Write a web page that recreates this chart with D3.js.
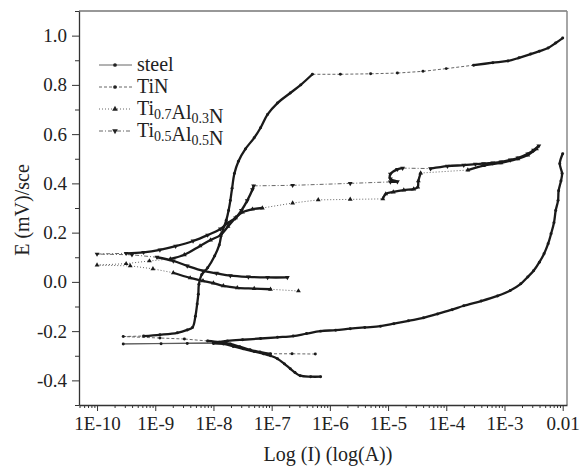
<!DOCTYPE html>
<html>
<head>
<meta charset="utf-8">
<script src="https://cdn.jsdelivr.net/npm/d3@7"></script>
<style>
body { margin: 0; background: #fff; }
text { font-family: "Liberation Serif", "Times New Roman", serif; fill: #222; }
</style>
</head>
<body>
<svg width="587" height="469"></svg>
<script>
var svg = d3.select('svg');

/* data: [log10(I), E] (cathodic end -> tip -> anodic end) */
var steel = [
  [-6.16,-0.385],[-6.33,-0.385],[-6.51,-0.381],[-6.6,-0.368],[-6.68,-0.353],[-6.78,-0.333],
  [-6.9,-0.312],[-7.02,-0.30],[-7.14,-0.292],[-7.3,-0.283],[-7.49,-0.272],[-7.66,-0.262],
  [-7.83,-0.252],[-8.0,-0.25],[-8.45,-0.25],[-8.9,-0.251],[-9.55,-0.252],
  [-8.0,-0.247],[-7.76,-0.24],[-7.5,-0.235],[-7.19,-0.23],[-6.9,-0.225],[-6.63,-0.22],
  [-6.4,-0.21],[-6.16,-0.2],[-5.9,-0.196],[-5.65,-0.19],[-5.4,-0.185],[-5.13,-0.18],
  [-4.9,-0.17],[-4.65,-0.158],[-4.39,-0.146],[-4.15,-0.13],[-3.9,-0.113],[-3.7,-0.097],
  [-3.4,-0.078],[-3.12,-0.057],[-2.9,-0.035],[-2.72,-0.008],[-2.6,0.02],[-2.5,0.045],
  [-2.4,0.08],[-2.32,0.114],[-2.25,0.155],[-2.2,0.195],[-2.15,0.24],[-2.12,0.29],
  [-2.08,0.33],[-2.07,0.37],[-2.03,0.41],[-2.01,0.44],[-2.05,0.48],[-2.0,0.52]
];
var tin = [
  [-6.25,-0.293],[-6.65,-0.292],[-7.02,-0.292],[-7.2,-0.285],[-7.37,-0.276],[-7.55,-0.263],
  [-7.71,-0.252],[-7.9,-0.245],[-8.1,-0.24],[-8.5,-0.232],[-8.92,-0.228],[-9.55,-0.222],
  [-9.2,-0.22],[-8.92,-0.215],[-8.62,-0.207],[-8.45,-0.195],[-8.36,-0.185],[-8.31,-0.14],
  [-8.28,-0.09],[-8.26,-0.05],[-8.25,-0.01],[-8.2,0.03],[-8.1,0.057],[-7.98,0.105],
  [-7.9,0.15],[-7.86,0.195],[-7.78,0.25],[-7.74,0.29],[-7.71,0.33],[-7.68,0.38],
  [-7.64,0.44],[-7.57,0.49],[-7.45,0.54],[-7.3,0.585],[-7.19,0.626],[-7.07,0.68],
  [-6.9,0.726],[-6.68,0.767],[-6.5,0.8],[-6.3,0.843],[-5.82,0.843],[-5.3,0.845],
  [-4.84,0.848],[-4.4,0.855],[-4.0,0.866],[-3.53,0.88],[-3.2,0.89],[-2.94,0.897],
  [-2.75,0.91],[-2.55,0.925],[-2.4,0.937],[-2.25,0.95],[-2.12,0.97],[-2.0,0.99]
];
var ti73 = [
  [-6.54,-0.037],[-7.02,-0.03],[-7.3,-0.027],[-7.59,-0.024],[-7.83,-0.016],[-8.0,-0.005],
  [-8.18,0.004],[-8.4,0.016],[-8.69,0.037],[-9.04,0.053],[-9.43,0.065],[-10.0,0.068],
  [-9.5,0.074],[-9.1,0.085],[-8.74,0.093],[-8.5,0.11],[-8.23,0.146],[-8.05,0.17],
  [-7.88,0.19],[-7.75,0.225],[-7.62,0.26],[-7.5,0.283],[-7.33,0.295],[-7.16,0.30],
  [-6.64,0.32],[-6.2,0.333],[-5.65,0.335],[-5.09,0.337],[-5.04,0.357],[-4.91,0.365],
  [-4.73,0.373],[-4.56,0.377],[-4.49,0.385],[-4.48,0.41],[-4.44,0.442],[-3.63,0.454],
  [-3.36,0.472],[-3.06,0.483],[-2.77,0.5],[-2.6,0.515],[-2.45,0.54]
];
var ti55 = [
  [-6.73,0.018],[-7.07,0.018],[-7.4,0.02],[-7.71,0.025],[-7.95,0.035],[-8.18,0.045],
  [-8.45,0.065],[-8.69,0.085],[-8.97,0.1],[-9.4,0.11],[-10.0,0.113],
  [-9.5,0.116],[-9.2,0.12],[-8.92,0.13],[-8.65,0.145],[-8.35,0.166],[-8.1,0.19],
  [-7.88,0.215],[-7.75,0.24],[-7.62,0.26],[-7.52,0.29],[-7.42,0.33],[-7.33,0.375],
  [-7.31,0.39],[-6.64,0.392],[-5.65,0.40],[-4.96,0.406],[-4.84,0.407],[-4.96,0.418],
  [-4.96,0.438],[-4.84,0.457],[-4.75,0.462],[-4.27,0.46],[-3.98,0.47],[-3.7,0.474],
  [-3.5,0.478],[-3.36,0.48],[-3.2,0.483],[-3.06,0.487],[-2.9,0.495],[-2.77,0.503],
  [-2.6,0.52],[-2.5,0.535],[-2.41,0.552]
];

var xMajor = [-10,-9,-8,-7,-6,-5,-4,-3,-2];
var xTickLabels = ["1E-10","1E-9","1E-8","1E-7","1E-6","1E-5","1E-4","1E-3","0.01"];
var yMajor = [-0.4,-0.2,0.0,0.2,0.4,0.6,0.8,1.0];

var mL = 79, mR = 567, mT = 11, mB = 405;

var x = d3.scaleLog()
  .domain([Math.pow(10,-10.31), Math.pow(10,-1.926)])
  .range([mL, mR]);
var y = d3.scaleLinear().domain([-0.5, 1.1]).range([mB, mT]);

// frame
svg.append("line").attr("x1",mL).attr("x2",mR).attr("y1",mT).attr("y2",mT)
  .attr("stroke","#333").attr("stroke-width",1.2);
svg.append("line").attr("x1",mR).attr("x2",mR).attr("y1",mT).attr("y2",mB)
  .attr("stroke","#888").attr("stroke-width",1.5);

// minor ticks
var xMinor = [];
xMajor.slice(0,-1).forEach(function(e){
  for (var k=2;k<10;k++) xMinor.push(k*Math.pow(10,e));
});
xMinor.push(0.5e-10*1, 0.6e-10, 0.7e-10, 0.8e-10, 0.9e-10);
var yMinor = [];
for (var v=-5; v<=11; v++) { if (v % 2 !== 0) yMinor.push(v/10); }

svg.append("g").attr("transform","translate(0,"+mB+")")
  .call(d3.axisBottom(x).tickValues(xMinor.filter(function(d){return x(d)>=mL;}))
    .tickSize(3).tickFormat(""))
  .call(function(g){ g.select(".domain").remove(); g.selectAll("line").attr("stroke","#333"); });
svg.append("g").attr("transform","translate("+mL+",0)")
  .call(d3.axisLeft(y).tickValues(yMinor).tickSize(4).tickFormat(""))
  .call(function(g){ g.select(".domain").remove(); g.selectAll("line").attr("stroke","#333"); });

var xAxis = svg.append("g").attr("transform","translate(0,"+mB+")")
  .call(d3.axisBottom(x).tickValues(xMajor.map(function(e){return Math.pow(10,e);}))
    .tickSize(6).tickSizeOuter(0).tickPadding(6)
    .tickFormat(function(d,i){ return xTickLabels[i]; }));
xAxis.select(".domain").attr("stroke","#333").attr("stroke-width",1.3);
xAxis.selectAll("line").attr("stroke","#333");
xAxis.selectAll("text").attr("font-size",19).attr("font-family","Liberation Serif").attr("fill","#222");

var yAxis = svg.append("g").attr("transform","translate("+mL+",0)")
  .call(d3.axisLeft(y).tickValues(yMajor).tickSize(7).tickSizeOuter(0).tickPadding(5)
    .tickFormat(function(d){ return (Math.round(d*10)/10).toFixed(1); }));
yAxis.select(".domain").attr("stroke","#333").attr("stroke-width",1.3);
yAxis.selectAll("line").attr("stroke","#333");
yAxis.selectAll("text").attr("font-size",19).attr("font-family","Liberation Serif").attr("fill","#222");

// axis titles
svg.append("text").attr("x",(mL+mR)/2 + 5).attr("y",461).attr("text-anchor","middle")
  .attr("font-size",20).text("Log (I) (log(A))");
svg.append("text").attr("transform","translate(29,210) rotate(-90)").attr("text-anchor","middle")
  .attr("font-size",20).text("E (mV)/sce");

// series drawing: close points = dense measured trace (thick), long jumps = thin styled link
var styles = [
  {data: steel, dash: null,      sym: d3.symbolCircle,   size: 7},
  {data: tin,   dash: "3,2",     sym: d3.symbolCircle,   size: 7},
  {data: ti73,  dash: "1,2",     sym: d3.symbolTriangle, size: 10},
  {data: ti55,  dash: "4,2,1,2", sym: d3.symbolTriangle, size: 10, down: true}
];
var gap = 20;
var smooth = d3.line().curve(d3.curveCatmullRom.alpha(0.5));

styles.forEach(function(s){
  var p = s.data.map(function(d){ return [x(Math.pow(10,d[0])), y(d[1])]; });
  var g = svg.append("g");
  var run = [p[0]];
  function flush(){
    if (run.length > 1) {
      g.append("path").attr("d", smooth(run)).attr("fill","none")
        .attr("stroke","#1a1a1a").attr("stroke-width",2.3)
        .attr("stroke-linejoin","round").attr("stroke-linecap","round");
    }
  }
  for (var i=1;i<p.length;i++){
    var a = p[i-1], b = p[i];
    var len = Math.hypot(b[0]-a[0], b[1]-a[1]);
    if (len < gap) {
      run.push(b);
    } else {
      flush();
      run = [b];
      g.append("line").attr("x1",a[0]).attr("y1",a[1]).attr("x2",b[0]).attr("y2",b[1])
        .attr("stroke","#555").attr("stroke-width",0.9)
        .attr("stroke-dasharray", s.dash);
    }
  }
  flush();
  g.selectAll("path.m").data(p).enter().append("path").attr("class","m")
    .attr("d", d3.symbol().type(s.sym).size(s.size))
    .attr("transform", function(d){ return "translate("+d[0]+","+d[1]+")"+(s.down?" rotate(180)":""); })
    .attr("fill","#1a1a1a");
});

// legend
var legend = svg.append("g");
var legY = [65, 87, 109, 131];
var labels = [
  [["steel",0]],
  [["TiN",0]],
  [["Ti",0],["0.7",1],["Al",0],["0.3",1],["N",0]],
  [["Ti",0],["0.5",1],["Al",0],["0.5",1],["N",0]]
];
styles.forEach(function(s,i){
  legend.append("line").attr("x1",99).attr("x2",132).attr("y1",legY[i]).attr("y2",legY[i])
    .attr("stroke","#666").attr("stroke-width",1).attr("stroke-dasharray", s.dash);
  legend.append("path").attr("d", d3.symbol().type(s.sym).size(s.size+4))
    .attr("transform","translate(115,"+legY[i]+")"+(s.down?" rotate(180)":""))
    .attr("fill","#222");
  var t = legend.append("text").attr("x",137).attr("y",legY[i]+6).attr("font-size",20);
  labels[i].forEach(function(part){
    if (part[1]) {
      t.append("tspan").attr("font-size",14).attr("dy",4).text(part[0]);
    } else {
      t.append("tspan").attr("dy", t.selectAll("tspan").size() && t.select("tspan:last-child").attr("font-size")=="14" ? -4 : 0).text(part[0]);
    }
  });
});
</script>
</body>
</html>
